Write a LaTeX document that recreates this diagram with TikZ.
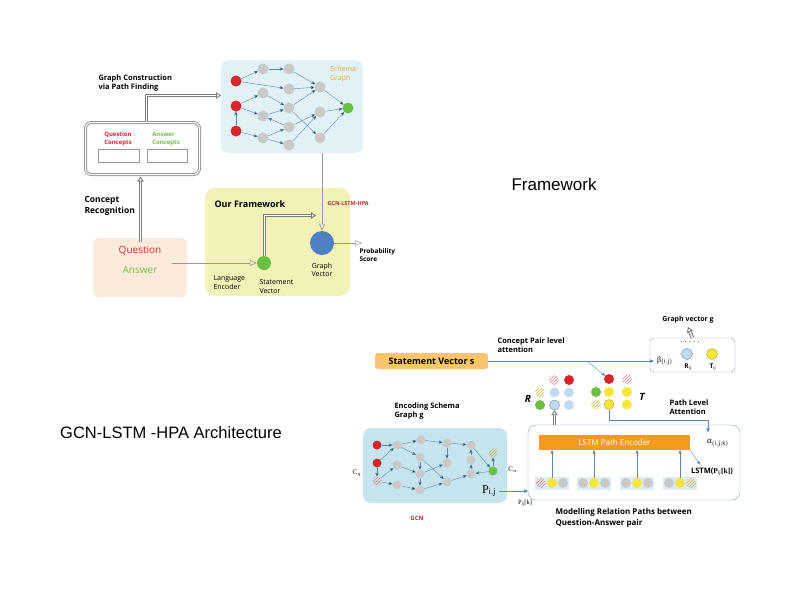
\documentclass[tikz,border=0pt]{standalone}
\usepackage{fontspec}
\setmainfont{Open Sans}
\newfontfamily\headfont{Liberation Sans}
\newfontfamily\serifnote{Liberation Serif}
\usetikzlibrary{arrows,arrows.meta,patterns,decorations.markings,positioning}

\definecolor{qred}{HTML}{D7262B}
\definecolor{agreen}{HTML}{6DBE45}
\definecolor{ngray}{HTML}{C9C9C9}
\definecolor{skyfill}{HTML}{E2F1F6}
\definecolor{gcnfill}{HTML}{C5E4EE}
\definecolor{fwfill}{HTML}{F2F1B8}
\definecolor{qafill}{HTML}{FCEADA}
\definecolor{gvblue}{HTML}{4F7FC4}
\definecolor{svorange}{HTML}{F8C46E}
\definecolor{lstmorange}{HTML}{F49B1E}
\definecolor{rblue}{HTML}{C2DAEE}
\definecolor{tyellow}{HTML}{F6E63C}
\definecolor{edgeblue}{HTML}{5A8AAE}
\definecolor{boxline}{HTML}{8AA3B5}
\definecolor{schemaorange}{HTML}{D9A94E}
\definecolor{gcnred}{HTML}{C0282E}
\definecolor{grpfill}{HTML}{DCEDF5}
\definecolor{hollowgray}{HTML}{7C7C7C}

\begin{document}
\begin{tikzpicture}[x=1pt,y=-1pt,>=stealth',
    lbl/.style={font=\fontsize{7}{8.5}\selectfont,align=left},
    lblb/.style={font=\bfseries\fontsize{7.5}{9.5}\selectfont,align=left},
    ball/.style={circle,inner sep=0pt,minimum size=#1},
    ball/.default=10,
    gnode/.style={ball=11,fill=ngray},
    rnode/.style={ball=11,fill=qred},
    hatchr/.style={ball,pattern=north east lines,pattern color=qred!60},
    hatchy/.style={ball,pattern=north east lines,pattern color=tyellow!80!black},
    gedge/.style={draw=edgeblue,->,line width=0.4pt},
    hollow/.style={
      preaction={draw=hollowgray,line width=3.6pt,shorten >=4.5pt},
      preaction={draw=white,line width=1.4pt,shorten >=4pt},
      postaction={decorate,decoration={markings,mark=at position 1 with
        {\arrow[hollowgray,line width=0.9pt]{Triangle[open,length=5pt,width=6.5pt]}}}}},
    twoline/.style={preaction={draw=hollowgray!80,line width=3pt},draw=white,line width=1pt},
    flow/.style={draw=gray!80,line width=0.6pt,-open triangle 45}]

  \useasboundingbox (0,0) rectangle (800,600);

  % titles
  \node[font=\headfont\fontsize{17}{20}\selectfont] (fwtitle) at (554,184) {Framework};
  \node[font=\headfont\fontsize{16.5}{20}\selectfont] (archtitle) at (171,433) {GCN-LSTM -HPA Architecture};

  % ---------- framework ----------
  \node[lblb,anchor=north west] (gcpf) at (95,71) {Graph Construction\\via Path Finding};

  \node[twoline,rounded corners=6pt,minimum width=114,minimum height=52] (cbox) at (142.5,148.5) {};
  \node[text=qred,font=\bfseries\fontsize{6}{7.5}\selectfont,align=left] (qc) at (118,139) {Question\\Concepts};
  \node[text=agreen,font=\bfseries\fontsize{6}{7.5}\selectfont,align=left] (ac) at (166,139) {Answer\\Concepts};
  \node[draw=gray!80,minimum width=41,minimum height=13] (qslot) at (118.5,155.5) {};
  \node[draw=gray!80,minimum width=40,minimum height=13] (aslot) at (167,155.5) {};

  \node[fill=skyfill,rounded corners=8pt,minimum width=142,minimum height=93] (schema) at (292,106.5) {};
  \node[text=schemaorange,lbl] (sgtext) at (343,74) {Schema\\Graph};

  \node[rnode] (r1) at (236,81) {};
  \node[rnode] (r2) at (236,106) {};
  \node[rnode] (r3) at (236,131) {};
  \node[gnode] (a1) at (263,69) {};
  \node[gnode] (a2) at (263,93) {};
  \node[gnode] (a3) at (263,116) {};
  \node[gnode] (a4) at (263,138) {};
  \node[gnode] (b1) at (289,69) {};
  \node[gnode] (b2) at (289,89) {};
  \node[gnode] (b3) at (289,108) {};
  \node[gnode] (b4) at (289,127) {};
  \node[gnode] (b5) at (289,145) {};
  \node[gnode] (c1) at (320,87) {};
  \node[gnode] (c2) at (320,112) {};
  \node[gnode] (c3) at (320,138) {};
  \node[ball=11,fill=agreen] (ag) at (348,108) {};

  \path[gedge] (r1) edge (a1) edge (b2)
               (r2) edge (a2) edge (a3)
               (r3) edge (r2) edge (a4)
               (a1) edge (b1)
               (a2) edge (b3)
               (a3) edge (b3)
               (a4) edge (b4) edge (b5)
               (b4) edge (a3)
               (b1) edge (c1)
               (b2) edge (c1)
               (b3) edge (c1) edge (c3)
               (b4) edge (c2)
               (b5) edge (c2)
               (c1) edge (ag)
               (c2) edge (ag)
               (c3) edge (ag);

  \coordinate (gcin) at (221,95.5);
  \path[hollow] ([xshift=4pt]cbox.north) |- (gcin);

  \node[fill=fwfill,rounded corners=10pt,minimum width=145,minimum height=108] (fw) at (277.5,242) {};
  \node[font=\bfseries\fontsize{9}{10}\selectfont,anchor=west] (fwname) at (211,204) {Our Framework};
  \node[text=gcnred,font=\bfseries\fontsize{5.5}{7}\selectfont,anchor=west] (hpa) at (324,204) {GCN-LSTM-HPA};

  \node[ball=24,fill=gvblue] (gv) at (322,243) {};
  \node[ball=14,fill=agreen] (sv) at (264,263) {};
  \node[lbl,align=center] (gvtext) at (322,270) {Graph\\Vector};
  \node[lbl,anchor=north west] (lenc) at (210,272) {Language\\Encoder};
  \node[lbl,anchor=north west] (svtext) at (256,276) {Statement\\Vector};
  \node[lblb,font=\bfseries\fontsize{6.5}{8}\selectfont,anchor=north west] (prob) at (356,245) {Probability\\Score};
  \coordinate (probin) at (362,243);

  \draw[flow] (schema.south -| gv) -- (gv.north);
  \coordinate (svout) at (316,215.5);
  \path[hollow] ([xshift=0.5pt]sv.north) |- (svout);
  \draw[flow,line width=0.5pt] (gv.east) -- (probin);

  \node[fill=qafill,rounded corners=6pt,minimum width=94,minimum height=59] (qa) at (140,267.5) {};
  \node[text=qred,font=\fontsize{10}{12}\selectfont] (qtext) at (140,251) {Question};
  \node[text=agreen,font=\fontsize{10}{12}\selectfont] (atext) at (140,270) {Answer};
  \coordinate (qaout) at (172,263);
  \draw[flow] (qaout) -- (sv.west);
  \path[hollow] ([yshift=-4pt,xshift=0.5pt]qa.north -| qtext) -- ([yshift=-1.5pt,xshift=0.5pt]cbox.south -| qtext);
  \node[font=\bfseries\fontsize{8.5}{11.5}\selectfont,align=left,anchor=west] (crec) at (81,206) {Concept\\Recognition};

  % ---------- architecture ----------
  \node[font=\bfseries\fontsize{7}{8.5}\selectfont] (gvg) at (688,320) {Graph vector g};
  \node[draw=boxline,rounded corners=4pt,minimum width=85,minimum height=34] (attbox) at (692.5,355) {};
  \path[hollow] (attbox.north) -- (gvg.south);
  \node[font=\fontsize{7}{8}\selectfont] (dots) at (690,342) {. . . . .};
  \node[font=\serifnote\fontsize{8}{9}\selectfont] (beta) at (665,361) {β$_{\mathrm{(i,j)}}$};
  \node[ball=11,fill=rblue,draw=edgeblue] (rij) at (687,354) {};
  \node[ball=11,fill=tyellow,draw=tyellow!70!black] (tij) at (712,354) {};
  \node[font=\bfseries\fontsize{6.5}{8}\selectfont] (rijt) at (688,367) {R$_{\mathrm{ij}}$};
  \node[font=\bfseries\fontsize{6.5}{8}\selectfont] (tijt) at (713,367) {T$_{\mathrm{ij}}$};

  \node[fill=svorange,rounded corners=3pt,minimum width=113,minimum height=16,
        font=\bfseries\fontsize{9}{10}\selectfont] (svs) at (431.5,361) {Statement Vector s};
  \draw[draw=edgeblue,->,line width=0.5pt] (svs.east) -- (beta.west);
  \node[lblb,anchor=north west] (cpa) at (494,334) {Concept Pair level\\attention};

  % R grid
  \node[hatchr] (r12) at (554,380) {};
  \node[ball,fill=qred] (r13) at (569,380) {};
  \node[hatchy] (r21) at (540,392.5) {};
  \node[ball,fill=rblue] (r22) at (554.5,392.5) {};
  \node[ball,fill=rblue] (r23) at (569,392.5) {};
  \node[ball,fill=agreen] (r31) at (540,405) {};
  \node[ball,fill=rblue,draw=edgeblue] (r32) at (554.5,405) {};
  \node[ball,fill=rblue] (r33) at (569,405) {};
  \node[font=\bfseries\itshape\fontsize{10}{12}\selectfont] (rname) at (528,399) {R};

  % T grid
  \node[ball,fill=qred] (t12) at (609,379) {};
  \node[hatchr] (t13) at (627,379) {};
  \node[ball,fill=agreen] (t21) at (596,392) {};
  \node[ball,fill=tyellow] (t22) at (609,392) {};
  \node[ball,fill=tyellow] (t23) at (627,392) {};
  \node[hatchy] (t31) at (596,404.5) {};
  \node[ball,fill=tyellow,draw=tyellow!70!black] (t32) at (609,404.5) {};
  \node[ball,fill=tyellow] (t33) at (627,404.5) {};
  \node[font=\bfseries\itshape\fontsize{10}{12}\selectfont] (tname) at (642,397) {T};

  \coordinate (cpaout) at (587,361);
  \draw[gedge] (cpaout) -- (t12);

  \node[lblb,anchor=north west] (pla) at (666,396) {Path Level\\Attention};
  \node[lblb,anchor=north west] (esg) at (391,399) {Encoding Schema\\Graph g};

  % GCN graph
  \node[fill=gcnfill,rounded corners=8pt,minimum width=144,minimum height=75] (gcnbox) at (435,465.5) {};
  \node[text=gcnred,font=\bfseries\fontsize{6}{7}\selectfont] (gcn) at (417,518) {GCN};
  \node[font=\serifnote\fontsize{7}{8}\selectfont] (cq) at (357,473) {C$_q$};
  \node[font=\serifnote\fontsize{7}{8}\selectfont] (ca) at (513,470) {C$_a$};

  \node[ball=9,fill=qred] (q1) at (377,445) {};
  \node[ball=9,fill=qred] (q2) at (377,463) {};
  \node[hatchr,minimum size=9] (q3) at (377,481) {};
  \node[ball=9,fill=ngray] (n11) at (397,445) {};
  \node[ball=9,fill=ngray] (n12) at (421,440) {};
  \node[ball=9,fill=ngray] (n13) at (447,443) {};
  \node[ball=9,fill=ngray] (n14) at (471,445) {};
  \node[ball=9,fill=ngray] (n21) at (397,465) {};
  \node[ball=9,fill=ngray] (n22) at (420,457) {};
  \node[ball=9,fill=ngray] (n23) at (447,463) {};
  \node[ball=9,fill=ngray] (n24) at (471,460) {};
  \node[ball=9,fill=ngray] (n31) at (397,485) {};
  \node[ball=9,fill=ngray] (n32) at (420,474) {};
  \node[ball=9,fill=ngray] (n33) at (420,490) {};
  \node[ball=9,fill=ngray] (n34) at (447,482) {};
  \node[ball=9,fill=ngray] (n35) at (471,474) {};
  \node[ball=9,fill=agreen] (cag) at (493,471) {};
  \node[hatchy,minimum size=9] (cay) at (493,453) {};

  \path[gedge] (q1) edge (n11)
               (q2) edge (n11) edge (q3)
               (q3) edge (n21) edge (n31)
               (n11) edge (n12) edge (n22)
               (n12) edge (n13)
               (n13) edge (n14) edge (n23)
               (n21) edge (n32)
               (n22) edge (n32) edge (n34)
               (n31) edge (n33)
               (n32) edge (n33)
               (n33) edge (n34)
               (n32) edge (n23)
               (n34) edge (n35)
               (n24) edge (n14)
               (n35) edge (n24)
               (n14) edge (cag)
               (cag) edge (n35) edge (cay);

  \node[font=\serifnote\fontsize{12}{14}\selectfont] (pij) at (489,491) {P$_{\mathrm{i,j}}$};
  \node[font=\serifnote\fontsize{6.5}{8}\selectfont] (pijk) at (525,503) {P$_{\mathrm{ij}}$[k]};

  % LSTM box
  \node[draw=boxline,rounded corners=8pt,minimum width=212,minimum height=75] (lstmbox) at (634,462.5) {};
  \node[fill=lstmorange,minimum width=151,minimum height=15,text=white,
        font=\fontsize{8}{9}\selectfont] (enc) at (614.5,442.5) {LSTM Path Encoder};
  \node[font=\serifnote\fontsize{9}{10}\selectfont] (alpha) at (718,443) {α$_{\mathrm{(i,j,k)}}$};
  \node[font=\bfseries\fontsize{7.5}{9}\selectfont] (lstml) at (712,472)
       {LSTM({\serifnote P$_{\mathrm{ij}}$[k]})};
  \draw[gedge] (enc.south east) -- ([xshift=-12pt]lstml.north);

  \draw[draw=edgeblue,->,line width=0.5pt] (pij.east) -- (lstmbox.west |- pij.east);
  \path[hollow] (lstmbox.north -| r32) -- (r32.south);
  \coordinate (tturn) at (708,420);
  \coordinate (aend) at (708,432);
  \draw[draw=edgeblue,line width=0.5pt,->] (t32.south) |- (tturn) -- (aend);

  \node[fill=grpfill,minimum width=34,minimum height=13] (grp1) at (552,483) {};
  \node[fill=grpfill,minimum width=34,minimum height=13] (grp2) at (594,483) {};
  \node[fill=grpfill,minimum width=34,minimum height=13] (grp3) at (637,483) {};
  \node[fill=grpfill,minimum width=34,minimum height=13] (grp4) at (680,483) {};

  \node[hatchr] (p11) at (541,483) {};
  \node[ball,fill=tyellow] (p12) at (552,483) {};
  \node[ball,fill=ngray] (p13) at (563,483) {};
  \node[ball,fill=ngray] (p21) at (583,483) {};
  \node[ball,fill=tyellow] (p22) at (594,483) {};
  \node[ball,fill=ngray] (p23) at (605,483) {};
  \node[ball,fill=ngray] (p31) at (626,483) {};
  \node[ball,fill=tyellow] (p32) at (637,483) {};
  \node[ball,fill=ngray] (p33) at (648,483) {};
  \node[ball,fill=ngray] (p41) at (669,483) {};
  \node[ball,fill=tyellow] (p42) at (680,483) {};
  \node[hatchy] (p43) at (691,483) {};

  \foreach \p in {p12,p22,p32,p42}
    \draw[gedge] (\p.north) -- (enc.south -| \p);

  \node[font=\bfseries\fontsize{8}{11}\selectfont,align=left,anchor=north west] (mrp) at (552,505)
       {Modelling Relation Paths between\\Question-Answer pair};
\end{tikzpicture}
\end{document}
